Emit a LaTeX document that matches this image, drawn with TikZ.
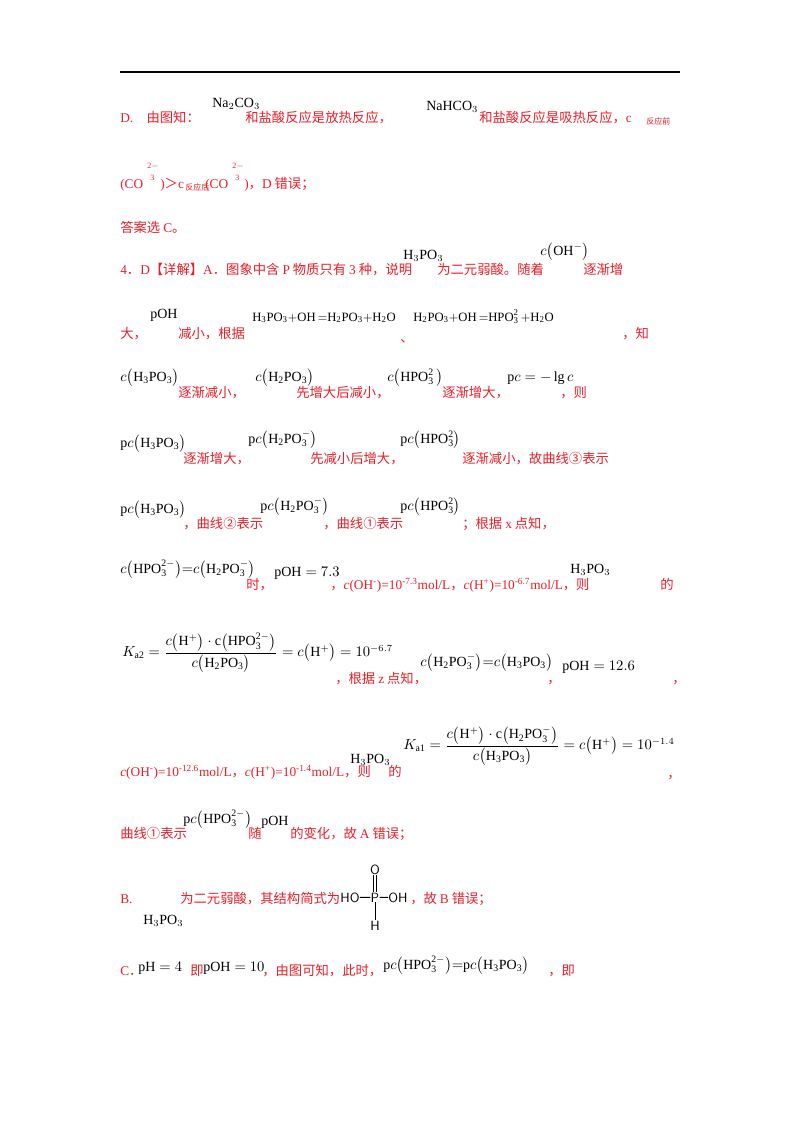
\documentclass[tikz,border=0pt]{standalone}
\usepackage{fontspec}
\usepackage{amsmath}
\setmainfont{Liberation Serif}
\newfontfamily\cjk{Noto Sans CJK SC}
\newcommand{\LL}[1]{{\rmfamily #1}}
\definecolor{myred}{RGB}{235,30,40}
\begin{document}
\begin{tikzpicture}[x=0.75pt,y=-0.75pt,
  t/.style={anchor=base west,inner sep=0pt,text=myred,font=\cjk\fontsize{10}{12}\selectfont},
  f/.style={anchor=base west,inner sep=0pt,font=\fontsize{10.5}{12}\selectfont},
  sm/.style={anchor=base west,inner sep=0pt,text=myred,font=\cjk\fontsize{6}{7}\selectfont},
  tiny/.style={anchor=base west,inner sep=0pt,text=myred,font=\fontsize{6}{7}\selectfont}]
\useasboundingbox (0,0) rectangle (800,1132);
\draw[line width=0.8pt] (120,72) coordinate (r1) -- (680,72) coordinate (r2);
% line 1
\node[t] (a1) at (120,122) {\LL{D.}\quad 由图知：};
\node[f] (a2) at (212,107) {Na$_2$CO$_3$};
\node[t] (a3) at (245,122) {和盐酸反应是放热反应，};
\node[f] (a4) at (426,110) {NaHCO$_3$};
\node[t] (a5) at (479,122) {和盐酸反应是吸热反应，\LL{c}};
\node[sm] (a6) at (646,124) {反应前};
% line 2
\node[t] (b1) at (120,188) {\LL{(CO}};
\node[tiny] (b2) at (147,168) {2$-$};
\node[tiny] (b3) at (150,180) {3};
\node[t] (b4) at (160,188) {\LL{)}＞\LL{c}};
\node[sm] (b5) at (185,190) {反应后};
\node[t] (b6) at (205,188) {\LL{(CO}};
\node[tiny] (b7) at (232,168) {2$-$};
\node[tiny] (b8) at (235,180) {3};
\node[t] (b9) at (244,188) {\LL{)}，\LL{D} 错误；};
\node[t] (c1) at (120,232) {答案选 \LL{C}。};
% line 4
\node[t] (d1) at (120,274) {\LL{4}．\LL{D}【详解】\LL{A}．图象中含 \LL{P} 物质只有 \LL{3} 种，说明};
\node[f] (d2) at (403,259) {H$_3$PO$_3$};
\node[t] (d3) at (437,274) {为二元弱酸。随着};
\node[f] (d4) at (540,255) {$c\bigl(\mathrm{OH^-}\bigr)$};
\node[t] (d5) at (583,274) {逐渐增};
% line 5
\node[t] (e1) at (120,338) {大，};
\node[f] (e2) at (150,318) {pOH};
\node[t] (e3) at (178,338) {减小，根据};
\node[f,font=\fontsize{9.5}{11}\selectfont] (e4) at (252,321) {$\mathrm{H_3PO_3{+}OH\,{=}H_2PO_3{+}H_2O}$};
\node[t] (e5) at (400,342) {、};
\node[f,font=\fontsize{9.5}{11}\selectfont] (e6) at (413,321) {$\mathrm{H_2PO_3{+}OH\,{=}HPO_3^{2}\,{+}H_2O}$};
\node[t] (e7) at (622,338) {，知};
% line 6
\node[f] (g1) at (120,381) {$c\bigl(\mathrm{H_3PO_3}\bigr)$};
\node[t] (g2) at (178,397) {逐渐减小，};
\node[f] (g3) at (255,381) {$c\bigl(\mathrm{H_2PO_3}\bigr)$};
\node[t] (g4) at (296,397) {先增大后减小，};
\node[f] (g5) at (387,381) {$c\bigl(\mathrm{HPO_3^{2}}\,\bigr)$};
\node[t] (g6) at (442,397) {逐渐增大，};
\node[f] (g7) at (507,381) {$\mathrm{p}c=-\lg c$};
\node[t] (g8) at (560,397) {，则};
% line 7
\node[f] (h1) at (120,447) {$\mathrm{p}c\bigl(\mathrm{H_3PO_3}\bigr)$};
\node[t] (h2) at (183,463) {逐渐增大，};
\node[f] (h3) at (248,443) {$\mathrm{p}c\bigl(\mathrm{H_2PO_3^-}\bigr)$};
\node[t] (h4) at (310,463) {先减小后增大，};
\node[f] (h5) at (400,443) {$\mathrm{p}c\bigl(\mathrm{HPO_3^{2}}\bigr)$};
\node[t] (h6) at (462,463) {逐渐减小，故曲线③表示};
% line 8
\node[f] (i1) at (120,513) {$\mathrm{p}c\bigl(\mathrm{H_3PO_3}\bigr)$};
\node[t] (i2) at (183,528) {，曲线②表示};
\node[f] (i3) at (260,510) {$\mathrm{p}c\bigl(\mathrm{H_2PO_3^-}\bigr)$};
\node[t] (i4) at (323,528) {，曲线①表示};
\node[f] (i5) at (400,510) {$\mathrm{p}c\bigl(\mathrm{HPO_3^{2}}\bigr)$};
\node[t] (i6) at (462,528) {；根据 \LL{x} 点知，};
% line 9
\node[f] (j1) at (120,573) {$c\bigl(\mathrm{HPO_3^{2-}}\bigr){=}c\bigl(\mathrm{H_2PO_3^{-}}\bigr)$};
\node[t] (j2) at (246,589) {时，};
\node[f] (j3) at (274,576) {$\mathrm{pOH}=7.3$};
\node[t] (j4) at (330,589) {，\LL{\textit{c}(OH\textsuperscript{-})=10\textsuperscript{-7.3}mol/L}，\LL{\textit{c}(H\textsuperscript{+})=10\textsuperscript{-6.7}mol/L}，则};
\node[f] (j5) at (570,573) {H$_3$PO$_3$};
\node[t] (j6) at (660,589) {的};
% line 10
\node[f,anchor=west] (k1) at (122,653) {$K_{\mathrm{a2}}=\dfrac{c\bigl(\mathrm{H^+}\bigr)\cdot \mathrm{c}\bigl(\mathrm{HPO_3^{2-}}\bigr)}{c\bigl(\mathrm{H_2PO_3}\bigr)}=c\bigl(\mathrm{H^+}\bigr)=10^{-6.7}$};
\node[t] (k2) at (335,683) {，根据 \LL{z} 点知，};
\node[f] (k3) at (420,666) {$c\bigl(\mathrm{H_2PO_3^-}\bigr){=}c\bigl(\mathrm{H_3PO_3}\bigr)$};
\node[t] (k4) at (547,683) {，};
\node[f] (k5) at (562,670) {$\mathrm{pOH}=12.6$};
\node[t] (k6) at (672,683) {，};
% line 11
\node[t] (l1) at (120,776) {\LL{\textit{c}(OH\textsuperscript{-})=10\textsuperscript{-12.6}mol/L}，\LL{\textit{c}(H\textsuperscript{+})=10\textsuperscript{-1.4}mol/L}，则};
\node[f] (l2) at (350,763) {H$_3$PO$_3$};
\node[t] (l3) at (388,776) {的};
\node[f,anchor=west] (l4) at (403,746) {$K_{\mathrm{a1}}=\dfrac{c\bigl(\mathrm{H^+}\bigr)\cdot \mathrm{c}\bigl(\mathrm{H_2PO_3^-}\bigr)}{c\bigl(\mathrm{H_3PO_3}\bigr)}=c\bigl(\mathrm{H^+}\bigr)=10^{-1.4}$};
\node[t] (l5) at (667,778) {，};
% line 12
\node[t] (m1) at (120,838) {曲线①表示};
\node[f] (m2) at (183,823) {$\mathrm{p}c\bigl(\mathrm{HPO_3^{2-}}\bigr)$};
\node[t] (m3) at (248,838) {随};
\node[f] (m4) at (261,825) {pOH};
\node[t] (m5) at (290,838) {的变化，故 \LL{A} 错误；};
% line 13
\node[t] (n1) at (120,903) {\LL{B.}};
\node[t] (n2) at (180,903) {为二元弱酸，其结构简式为};
\node[f] (n3) at (143,924) {H$_3$PO$_3$};
\node[anchor=base,inner sep=0pt,font=\sffamily\fontsize{10}{12}\selectfont] (hoL) at (350,902) {HO};
\node[anchor=base,inner sep=0pt,font=\sffamily\fontsize{10}{12}\selectfont] (pp) at (375,902) {P};
\node[anchor=base,inner sep=0pt,font=\sffamily\fontsize{10}{12}\selectfont] (ohR) at (398,902) {OH};
\node[anchor=base,inner sep=0pt,font=\sffamily\fontsize{10}{12}\selectfont] (oo) at (375,874) {O};
\node[anchor=base,inner sep=0pt,font=\sffamily\fontsize{10}{12}\selectfont] (hh) at (375,930) {H};
\draw[line width=0.6pt] (hoL) -- (pp);
\draw[line width=0.6pt] (pp) -- (ohR);
\draw[line width=0.6pt] (pp) -- (hh);
\draw[line width=0.6pt,double,double distance=1.5pt] (oo) -- (pp);
\node[t] (n4) at (410,903) {，故 \LL{B} 错误；};
% line 14
\node[t] (o1) at (120,975) {\LL{C}．};
\node[f] (o2) at (138,971) {$\mathrm{pH}=4$};
\node[t] (o3) at (190,975) {即};
\node[f] (o4) at (203,971) {$\mathrm{pOH}=10$};
\node[t] (o5) at (262,975) {，由图可知，此时，};
\node[f] (o6) at (383,969) {$\mathrm{p}c\bigl(\mathrm{HPO_3^{2-}}\bigr){=}\mathrm{p}c\bigl(\mathrm{H_3PO_3}\bigr)$};
\node[t] (o7) at (548,975) {，即};
\end{tikzpicture}
\end{document}
